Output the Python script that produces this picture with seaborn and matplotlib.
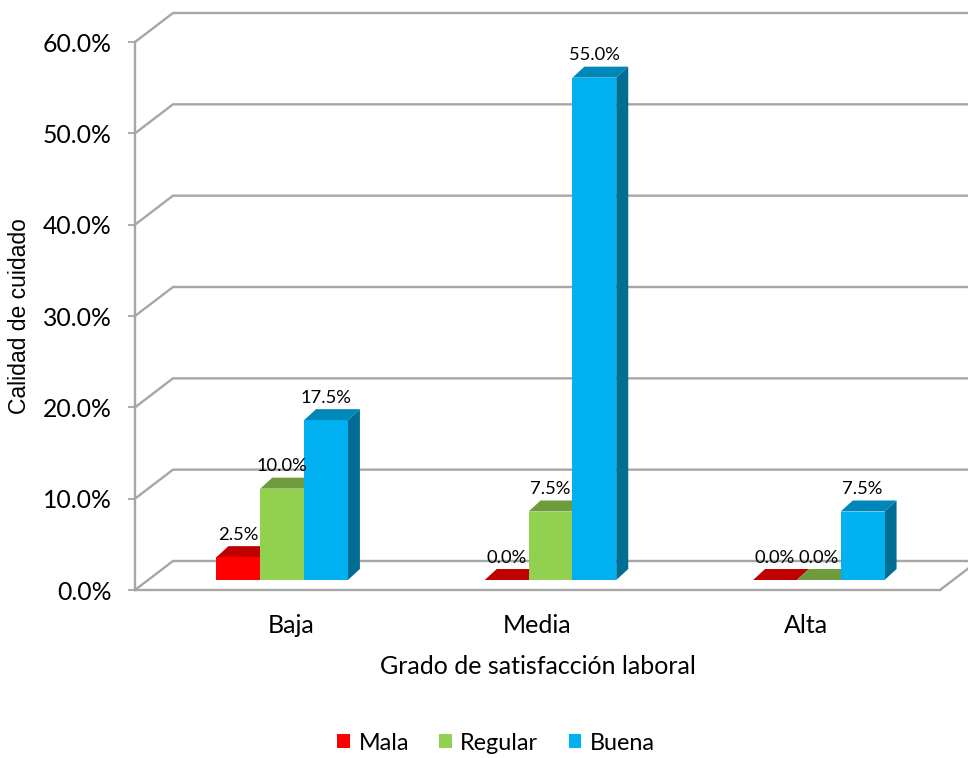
import matplotlib
matplotlib.use("Agg")
import matplotlib.pyplot as plt
from matplotlib.patches import Polygon, Patch
from matplotlib.ticker import FuncFormatter
from matplotlib.transforms import ScaledTranslation
import seaborn as sns
import pandas as pd

# ---- data ----
categorias = ["Baja", "Media", "Alta"]
series = ["Mala", "Regular", "Buena"]
mala = [2.5, 0.0, 0.0]
regular = [10.0, 7.5, 0.0]
buena = [17.5, 55.0, 7.5]
y_ticks = [0, 10, 20, 30, 40, 50, 60]

front_colors = {"Mala": "#FF0000", "Regular": "#92D050", "Buena": "#00B0F0"}
top_colors = {"Mala": "#C00000", "Regular": "#6E9C3C", "Buena": "#0087BA"}
side_colors = {"Mala": "#A00000", "Regular": "#5C8532", "Buena": "#006D95"}

df = pd.DataFrame({
    "grado": categorias * 3,
    "calidad": [s for s in series for _ in categorias],
    "valor": mala + regular + buena,
})

sns.set_theme(style="white")
plt.rcParams["font.family"] = ["Lato", "DejaVu Sans"]
plt.rcParams["text.color"] = "black"
plt.rcParams["xtick.color"] = "black"
plt.rcParams["ytick.color"] = "black"
plt.rcParams["axes.labelcolor"] = "black"

W, H = 968, 758
fig = plt.figure(figsize=(W / 100, H / 100), dpi=100)
ax_left, ax_bottom, ax_w, ax_h = 135, 168, 805, 548
ax = fig.add_axes([ax_left / W, ax_bottom / H, ax_w / W, ax_h / H])

# pixel -> data conversions
px_x = 3.0 / ax_w
px_y = 60.0 / ax_h

sns.barplot(data=df, x="grado", y="valor", hue="calidad", order=categorias,
            hue_order=series, palette=front_colors, width=0.49, gap=0,
            saturation=1, legend=False, ax=ax, linewidth=0, edgecolor="none")
ax.set_xlim(-0.5, 2.5)
ax.set_ylim(0, 60)

grid_c = "#a6a6a6"
grid_lw = 1.7
wall_dx, wall_dy = 38 * px_x, 29 * px_y
bar_dx, bar_dy = 13 * px_x, 10 * px_y
dep_dx, dep_dy = 12 * px_x, 11 * px_y

x0, x1 = -0.5, 2.5
for t in y_ticks:
    ax.plot([x0, x0 + wall_dx, x1 + wall_dx], [t, t + wall_dy, t + wall_dy],
            color=grid_c, lw=grid_lw, clip_on=False, zorder=1,
            solid_capstyle="butt")
ax.plot([x1, x1 + wall_dx], [0, wall_dy], color=grid_c, lw=grid_lw,
        clip_on=False, zorder=1)

# 3D bars
patches = sorted([p for p in ax.patches], key=lambda p: p.get_x())
for i, p in enumerate(patches):
    fc = matplotlib.colors.to_hex(p.get_facecolor())
    name = [k for k, v in front_colors.items() if v.lower() == fc.lower()][0]
    xl = p.get_x() + bar_dx
    w = p.get_width()
    hgt = p.get_height()
    yb = bar_dy
    yt = hgt + bar_dy
    p.set_x(xl)
    p.set_y(yb)
    p.set_zorder(3 + i * 0.1 + 0.05)
    p.set_clip_on(False)
    xr = xl + w
    side = Polygon([(xr, yb), (xr + dep_dx, yb + dep_dy), (xr + dep_dx, yt + dep_dy), (xr, yt)],
                   closed=True, facecolor=side_colors[name], edgecolor="none",
                   zorder=3 + i * 0.1, clip_on=False)
    top = Polygon([(xl, yt), (xr, yt), (xr + dep_dx, yt + dep_dy), (xl + dep_dx, yt + dep_dy)],
                  closed=True, facecolor=top_colors[name], edgecolor="none",
                  zorder=3 + i * 0.1, clip_on=False)
    ax.add_patch(side)
    ax.add_patch(top)
    ax.annotate(f"{hgt:.1f}%", (xl + w / 2, yt), xytext=(0, 16),
                textcoords="offset points", ha="center", va="center",
                fontsize=13.2, color="black", zorder=10)

# axes styling
for s in ["top", "right"]:
    ax.spines[s].set_visible(False)
for s in ["left", "bottom"]:
    ax.spines[s].set_color(grid_c)
    ax.spines[s].set_linewidth(grid_lw)
    ax.spines[s].set_zorder(2)

ax.set_yticks(y_ticks)
ax.yaxis.set_major_formatter(FuncFormatter(lambda v, _: f"{v:.1f}%"))
ax.tick_params(axis="y", length=5, width=1.3, color=grid_c, labelcolor="black",
               direction="out", labelsize=17.8, pad=12, left=True)
ax.tick_params(axis="x", length=0, labelsize=18, pad=17, labelcolor="black")

# Excel places the first category label slightly to the right
first = ax.get_xticklabels()[0]
first.set_transform(first.get_transform() + ScaledTranslation(0.22, 0, fig.dpi_scale_trans))

ax.set_xlabel("Grado de satisfacción laboral", fontsize=18)
ax.xaxis.set_label_coords(0.5, (758 - 666 - ax_bottom) / ax_h)
ax.xaxis.label.set_va("center")
ax.set_ylabel("Calidad de cuidado", fontsize=16.5,
              family=["Liberation Sans", "DejaVu Sans"])
ax.yaxis.set_label_coords((20 - ax_left) / ax_w, 0.5)
ax.yaxis.label.set_va("center")

handles = [Patch(facecolor=front_colors[s], edgecolor="none", label=s) for s in series]
fig.legend(handles=handles, loc="center", bbox_to_anchor=(496 / W, 1 - 743 / H),
           ncol=3, frameon=False, fontsize=16.8, handlelength=0.55,
           handleheight=0.55, handletextpad=0.35, columnspacing=1.3)

fig.savefig("out.png", dpi=100, facecolor="white")
